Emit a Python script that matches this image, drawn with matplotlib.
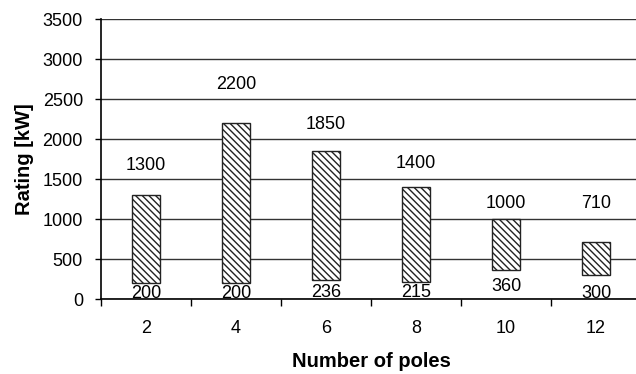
import matplotlib
matplotlib.use("Agg")
import matplotlib.pyplot as plt
import numpy as np

poles = ["2", "4", "6", "8", "10", "12"]
rating_min = [200, 200, 236, 215, 360, 300]
rating_max = [1300, 2200, 1850, 1400, 1000, 710]
# label offsets (points) from the bar ends, as placed in the original chart
max_label_offsets = [21.6, 27.4, 19.4, 16.6, 11.5, 28.1]
min_label_offsets = [-7.2, -7.2, -8.6, -7.9, -11.5, -13.0]

plt.rcParams['font.family'] = ['Liberation Sans', 'DejaVu Sans']
plt.rcParams['hatch.linewidth'] = 1.0
plt.rcParams['hatch.color'] = '#5a5a5a'

fig = plt.figure(figsize=(6.36, 3.74), dpi=100)
ax = fig.add_axes([101/636, 75/374, 540/636, 280/374])

x = np.arange(len(poles))
heights = [mx - mn for mn, mx in zip(rating_min, rating_max)]
ax.bar(x, heights, bottom=rating_min, width=0.32, color='white',
       edgecolor='#222222', linewidth=1.0, hatch='\\\\\\\\\\', zorder=3)

fs = 13
for xi, mn, mx, o1, o2 in zip(x, rating_min, rating_max, max_label_offsets, min_label_offsets):
    ax.annotate(str(mx), (xi, mx), xytext=(0, o1), textcoords='offset points',
                ha='center', va='center', fontsize=fs)
    ax.annotate(str(mn), (xi, mn), xytext=(0, o2), textcoords='offset points',
                ha='center', va='center', fontsize=fs)

ax.set_ylim(0, 3500)
ax.set_yticks(np.arange(0, 3501, 500))
ax.set_xlim(-0.5, len(poles) - 0.5)
ax.set_xticks(np.arange(-0.5, len(poles), 1.0))
ax.set_xticklabels([])
ax.set_xticks(x, minor=True)
ax.set_xticklabels(poles, minor=True)
ax.tick_params(axis='x', which='major', length=5, width=1, direction='out')
ax.tick_params(axis='x', which='minor', length=0, pad=15, labelsize=fs)
ax.tick_params(axis='y', length=4, width=1, labelsize=fs, pad=9)

ax.grid(axis='y', color='#333333', linewidth=1.0, zorder=0)
ax.set_axisbelow(True)
for s in ['top', 'right']:
    ax.spines[s].set_visible(False)
for s in ['left', 'bottom']:
    ax.spines[s].set_linewidth(1.2)
    ax.spines[s].set_color('black')

ax.set_ylabel('Rating [kW]', fontsize=14.5, fontweight='bold', labelpad=6)
ax.set_xlabel('Number of poles', fontsize=14.5, fontweight='bold', labelpad=11)

fig.savefig('out.png', dpi=100)
